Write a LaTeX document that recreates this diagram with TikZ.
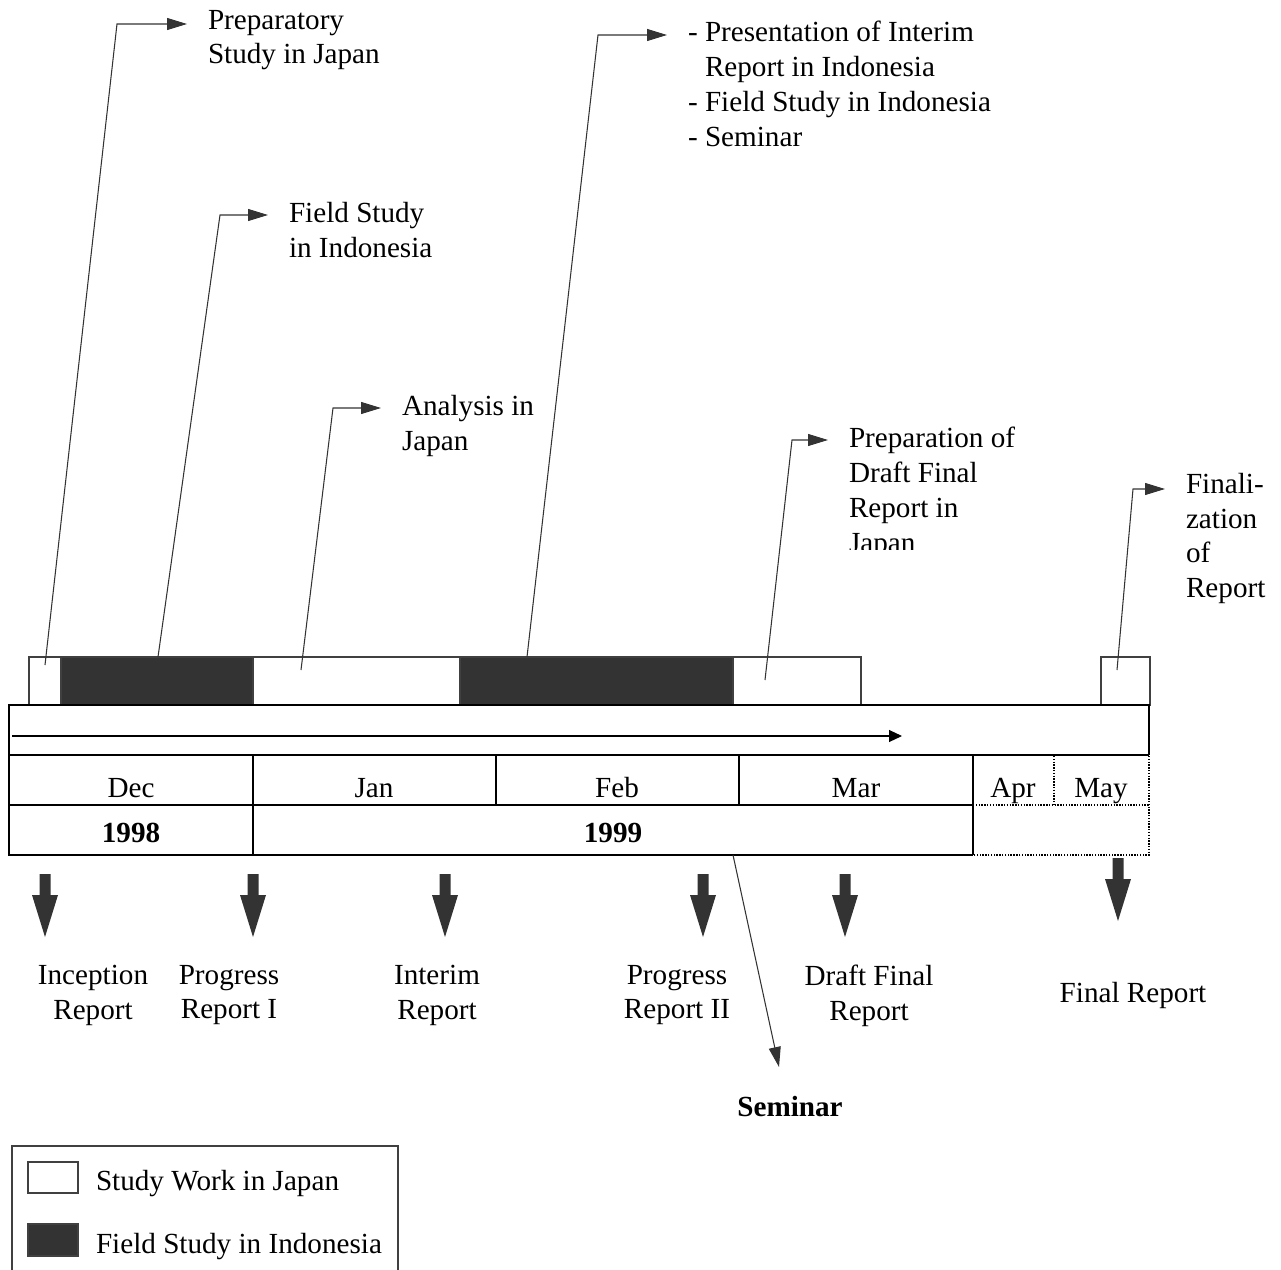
\documentclass[tikz,border=0pt]{standalone}
\usepackage{fontspec}
\setmainfont{Liberation Serif}
\usetikzlibrary{arrows.meta,calc}
\definecolor{ink}{HTML}{333333}
\definecolor{edge}{HTML}{404040}
\newcommand\lblfont{\fontsize{16.6pt}{19.85pt}\selectfont}

\begin{document}
\begin{tikzpicture}[x=0.02cm,y=-0.02cm,
  every node/.style={font=\lblfont, inner sep=0pt, outer sep=0pt},
  japan/.style={draw=edge, line width=0.6pt, fill=white, anchor=north west, minimum height=0.96cm},
  field/.style={japan, fill=ink},
  callout/.style={draw=ink, line width=0.6pt, -{Triangle[length=0.4cm,width=0.24cm]}, shorten >=0.42cm},
  grid/.style={line width=0.85pt, draw=black},
  dots/.style={line width=1.3pt, draw=black, dash pattern=on 0.8pt off 0.8pt},
  note/.style={align=left, anchor=north west},
  report/.style={align=center, anchor=north},
  dropshape/.pic={\fill[ink] (-5.5,0) -- (5.5,0) -- (5.5,21) -- (13,21) -- (0,63) -- (-13,21) -- (-5.5,21) -- cycle;}
]
\clip (0,0) rectangle (1281,1270);

% activity bar
\node[japan, minimum width=0.64cm] (s1) at (29,657) {};
\node[field, minimum width=3.84cm] (s2) at (61,657) {};
\node[japan, minimum width=4.14cm] (s3) at (253,657) {};
\node[field, minimum width=5.46cm] (s4) at (460,657) {};
\node[japan, minimum width=2.56cm] (s5) at (733,657) {};
\node[japan, minimum width=0.98cm] (s6) at (1101,657) {};

% time table
\draw[grid] (1149,755) -- (1149,705) -- (9,705) -- (9,855) -- (973,855);
\draw[grid] (9,755) -- (1149,755);
\draw[grid] (9,805) -- (973,805);
\draw[grid] (253,755) -- (253,855);
\draw[grid] (496,755) -- (496,805);
\draw[grid] (739,755) -- (739,805);
\draw[grid] (973,755) -- (973,855);
\draw[dots] (1149,756) -- (1149,855) -- (973,855);
\draw[dots] (973,805) -- (1149,805);
\draw[dots] (1054,756) -- (1054,805);

\coordinate (tl0) at (12,736);
\coordinate (tl1) at (902,736);
\draw[line width=0.6pt, -{Triangle[length=0.26cm,width=0.24cm]}] (tl0) -- (tl1);

% months and years
\node[anchor=base] (mdec) at (131,797) {Dec};
\node[anchor=base] (mjan) at (374,797) {Jan};
\node[anchor=base] (mfeb) at (617,797) {Feb};
\node[anchor=base] (mmar) at (856,797) {Mar};
\node[anchor=base] (mapr) at (1013,797) {Apr};
\node[anchor=base] (mmay) at (1101,797) {May};
\node[anchor=base, font=\lblfont\bfseries] (y98) at (131,842) {1998};
\node[anchor=base, font=\lblfont\bfseries] (y99) at (613,842) {1999};

% activity notes
\node[note] (t1) at (208,10) {Preparatory\\Study in Japan};
\node[note] (t2) at (289,202) {Field Study\\in Indonesia};
\node[note] (t3) at (402,395) {Analysis in\\Japan};
\node[note] (t4) at (688,21) {- Presentation of Interim\\\phantom{- }Report in Indonesia\\- Field Study in Indonesia\\- Seminar};
\begin{scope}
  \clip (800,400) rectangle (1100,549);
  \node[note] (t5) at (849,427) {Preparation of\\Draft Final\\Report in\\Japan};
\end{scope}
\node[note] (t6) at (1186,473) {Finali-\\zation\\of\\Report};

\coordinate (b1) at (117,24);
\coordinate (b2) at (220,215);
\coordinate (b3) at (333,408);
\coordinate (b4) at (598,35);
\coordinate (b5) at (792,440);
\coordinate (b6) at (1133,489);
\draw[callout] ($(s1.north west)+(16,8)$) -- (b1) -- (b1 -| t1.west);
\draw[callout] ($(s2.north west)+(97,0)$) -- (b2) -- (b2 -| t2.west);
\draw[callout] ($(s3.north west)+(48,13)$) -- (b3) -- (b3 -| t3.west);
\draw[callout] ($(s4.north west)+(67,0)$) -- (b4) -- (b4 -| t4.west);
\draw[callout] ($(s5.north west)+(32,23)$) -- (b5) -- (b5 -| t5.west);
\draw[callout] ($(s6.north west)+(16,13)$) -- (b6) -- (b6 -| t6.west);

% deliverables
\foreach \x in {45,253,445,703,845} \pic at (\x,874) {dropshape};
\pic at (1118,858) {dropshape};
\node[report] (r1) at (93,965) {Inception\\Report};
\node[report] (r2) at (229,965) {Progress\\Report I};
\node[report] (r3) at (437,965) {Interim\\Report};
\node[report] (r4) at (677,965) {Progress\\Report II};
\node[report] (r5) at (869,965) {Draft Final\\Report};
\node[anchor=base] (r6) at (1133,1002) {Final Report};

% seminar
\coordinate (semroot) at (733,855);
\coordinate (semtip) at (779,1067);
\draw[draw=ink, line width=0.6pt, -{Triangle[length=0.4cm,width=0.24cm]}] (semroot) -- (semtip);
\node[anchor=base, font=\lblfont\bfseries] (sem) at (790,1116) {Seminar};

% legend
\draw[draw=edge, line width=0.85pt] (12,1146) rectangle (398,1300);
\node[japan, minimum width=1cm, minimum height=0.62cm] (keyjp) at (28,1162) {};
\node[field, minimum width=1cm, minimum height=0.64cm] (keyid) at (28,1224) {};
\node[anchor=base west] (keyjpt) at (96,1190) {Study Work in Japan};
\node[anchor=base west] (keyidt) at (96,1253) {Field Study in Indonesia};
\end{tikzpicture}
\end{document}
